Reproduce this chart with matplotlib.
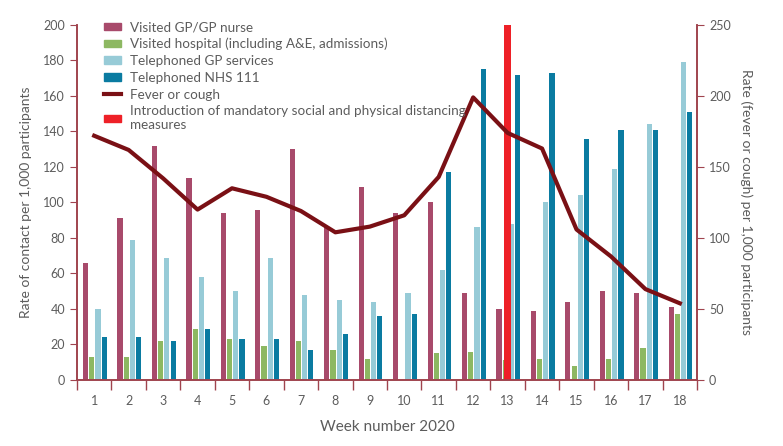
import matplotlib.pyplot as plt
import numpy as np
from matplotlib.patches import Patch
from matplotlib.lines import Line2D

plt.rcParams['font.family'] = ['Lato', 'DejaVu Sans']

weeks = np.arange(1, 19)
visited_gp = [66, 91, 132, 114, 94, 96, 130, 86, 109, 94, 100, 49, 40, 39, 44, 50, 49, 41]
visited_hosp = [13, 13, 22, 29, 23, 19, 22, 17, 12, 0, 15, 16, 11, 12, 8, 12, 18, 37]
tel_gp = [40, 79, 69, 58, 50, 69, 48, 45, 44, 49, 62, 86, 88, 100, 104, 119, 144, 179]
tel_111 = [24, 24, 22, 29, 23, 23, 17, 26, 36, 37, 117, 175, 172, 173, 136, 141, 141, 151]
fever_cough = [172, 162, 142, 120, 135, 129, 119, 104, 108, 116, 143, 199, 174, 163, 106, 87, 64, 54]
distancing_week = 13
distancing_value = 200

c_gp = '#A84A6B'
c_hosp = '#8DB862'
c_telgp = '#97CBD7'
c_111 = '#0A7BA1'
c_line = '#7A1015'
c_red = '#EE2027'
c_axis = '#A0444E'
c_text = '#5c5c5c'

fig = plt.figure(figsize=(7.83, 4.46), dpi=100)
ax = fig.add_axes([0.0983, 0.148, 0.792, 0.796])
ax2 = ax.twinx()

w = 0.15
ax.bar(weeks - 0.25, visited_gp, w, color=c_gp, zorder=2)
ax.bar(weeks - 0.07, visited_hosp, w, color=c_hosp, zorder=2)
ax.bar(weeks + 0.11, tel_gp, w, color=c_telgp, zorder=2)
ax.bar(weeks + 0.29, tel_111, w, color=c_111, zorder=2)
ax.bar([distancing_week], [distancing_value], 0.2, color=c_red, zorder=3)

ax2.plot(weeks, fever_cough, color=c_line, lw=3, zorder=4)

ax.set_xlim(0.5, 18.5)
ax.set_ylim(0, 200)
ax2.set_ylim(0, 250)
ax.set_yticks(np.arange(0, 201, 20))
ax2.set_yticks(np.arange(0, 251, 50))
ax.set_xticks(weeks)
ax.set_xticks(np.arange(0.5, 18.6, 1), minor=True)
ax.tick_params(axis='x', which='major', length=0, pad=11, labelsize=9, labelcolor=c_text)
ax.tick_params(axis='x', which='minor', length=7, color=c_axis, width=1)
ax.tick_params(axis='y', length=5, color=c_axis, labelsize=9, labelcolor=c_text)
ax2.tick_params(axis='y', length=5, color=c_axis, labelsize=9, labelcolor=c_text)

for a in (ax, ax2):
    a.spines['top'].set_visible(False)
    for s in ('left', 'right', 'bottom'):
        a.spines[s].set_color(c_axis)
        a.spines[s].set_linewidth(1.2)

ax.set_xlabel('Week number 2020', fontsize=11, color=c_text, labelpad=9)
ax.set_ylabel('Rate of contact per 1,000 participants', fontsize=10, color=c_text, labelpad=8)
ax2.set_ylabel('Rate (fever or cough) per 1,000 participants', fontsize=10, color=c_text,
               rotation=270, labelpad=16)

handles = [Patch(color=c_gp), Patch(color=c_hosp), Patch(color=c_telgp), Patch(color=c_111),
           Line2D([], [], color=c_line, lw=3), Patch(color=c_red)]
labels = ['Visited GP/GP nurse', 'Visited hospital (including A&E, admissions)',
          'Telephoned GP services', 'Telephoned NHS 111', 'Fever or cough',
          'Introduction of mandatory social and physical distancing\nmeasures']
leg = ax2.legend(handles, labels, loc='upper left', bbox_to_anchor=(0.024, 1.045), frameon=False,
                 fontsize=9.7, handlelength=1.25, handleheight=0.5, labelspacing=0.35,
                 handletextpad=0.7)
for t in leg.get_texts():
    t.set_color(c_text)

plt.savefig('out.png', dpi=100)
